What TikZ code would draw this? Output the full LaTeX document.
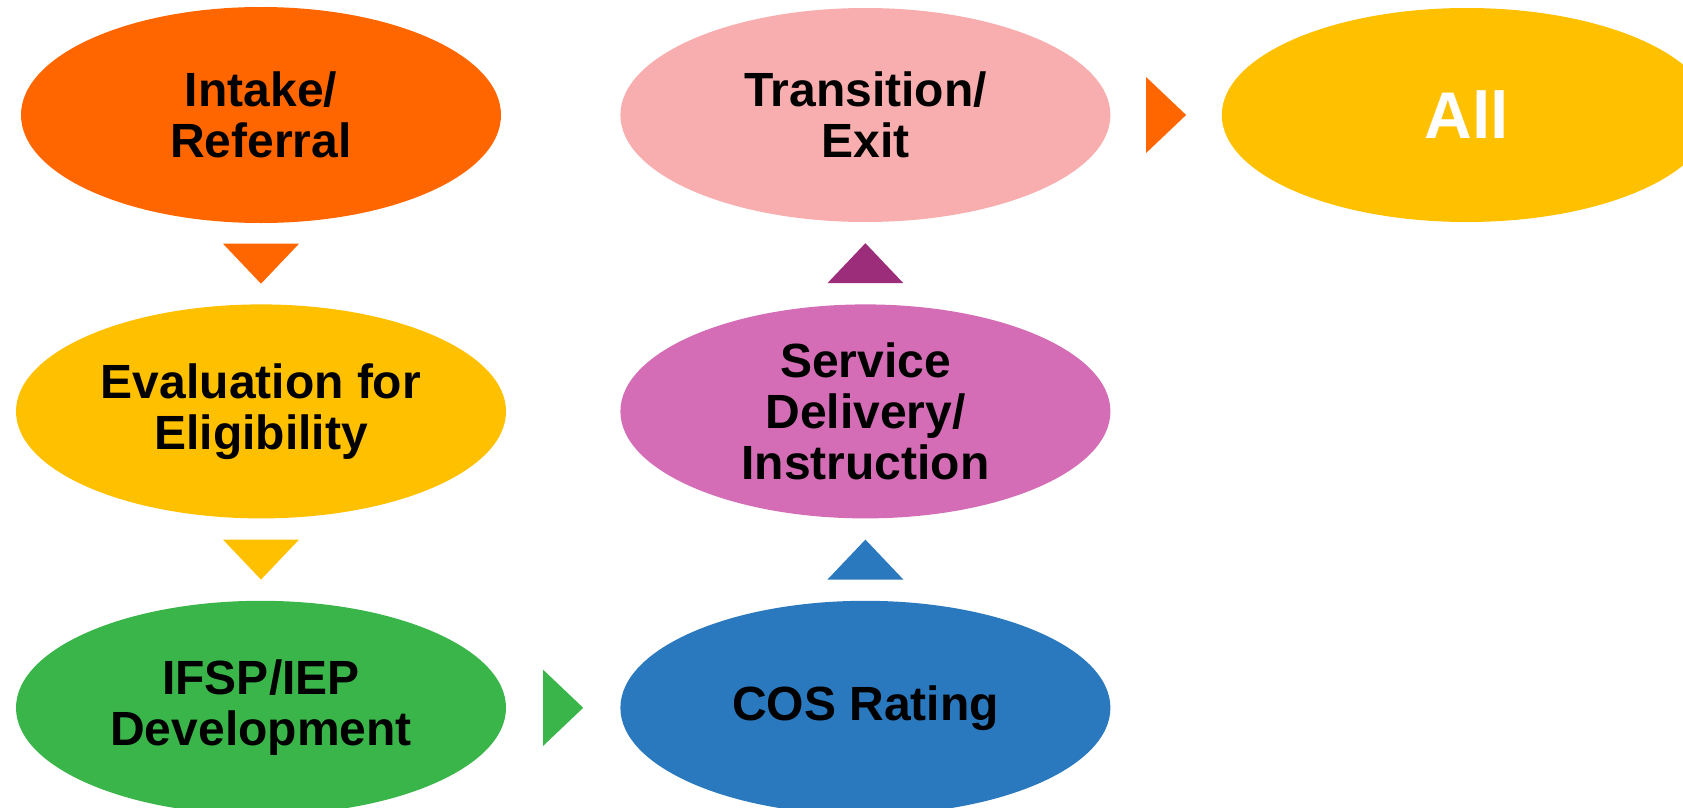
\documentclass[tikz,border=0pt]{standalone}
\usepackage{fontspec}
\setmainfont{Liberation Sans}
\usepackage{tikz}
\usetikzlibrary{positioning}
\usetikzlibrary{shapes.geometric, calc}

\definecolor{intakeorange}{HTML}{FF6600}
\definecolor{evalyellow}{HTML}{FFC000}
\definecolor{plangreen}{HTML}{3AB54A}
\definecolor{cosblue}{HTML}{2A78BD}
\definecolor{servicepink}{HTML}{D46DB5}
\definecolor{exitpink}{HTML}{F8AEAE}
\definecolor{stepplum}{HTML}{9B2D7A}

% filled triangle pointing along an angle: colour, centre, angle, side angles
\newcommand{\flowtri}[5]{%
  \fill[#1] ($(#2)+(#3:20)$) -- ($(#2)+(#4:38)+(#3:-20)$) -- ($(#2)+(#5:38)+(#3:-20)$) -- cycle;}

\begin{document}
\begin{tikzpicture}[
    x = 1pt, y = -1pt,
    every node/.style = {ellipse, minimum width = 490pt, minimum height = 214pt, inner sep = 0pt,
                         align = center, font = \fontsize{48}{51}\selectfont\bfseries},
    node distance = 82pt and 114pt
  ]
  \useasboundingbox (0,0) rectangle (1683,808);
  \clip (0,0) rectangle (1683,808);

  % Left column
  \node[fill = intakeorange, minimum width = 480pt, minimum height = 216pt] (intake) at (261,115) {Intake/\\Referral};
  \node[fill = evalyellow, below = 81pt of intake] (eval) {Evaluation for\\Eligibility};
  \node[fill = plangreen, below = of eval] (ifsp) {IFSP/IEP\\Development};

  % Middle column
  \node[fill = cosblue, right = of ifsp] (cos) {COS Rating};
  \node[fill = servicepink, above = of cos] (service) {Service\\Delivery/\\Instruction};
  \node[fill = exitpink, above = of service] (exit) {Transition/\\Exit};

  % Right
  \node[fill = evalyellow, text = white, right = 111pt of exit, font = \fontsize{66}{66}\selectfont\bfseries] (all) {All};

  % Arrows
  \flowtri{intakeorange}{$(intake.south)!0.5!(eval.north)$}{90}{0}{180}
  \flowtri{evalyellow}{$(eval.south)!0.5!(ifsp.north)$}{90}{0}{180}
  \flowtri{plangreen}{$(ifsp.east)!0.5!(cos.west)$}{0}{90}{-90}
  \flowtri{cosblue}{$(cos.north)!0.5!(service.south)$}{-90}{0}{180}
  \flowtri{stepplum}{$(service.north)!0.5!(exit.south)$}{-90}{0}{180}
  \flowtri{intakeorange}{$(exit.east)!0.5!(all.west)$}{0}{90}{-90}
\end{tikzpicture}
\end{document}
